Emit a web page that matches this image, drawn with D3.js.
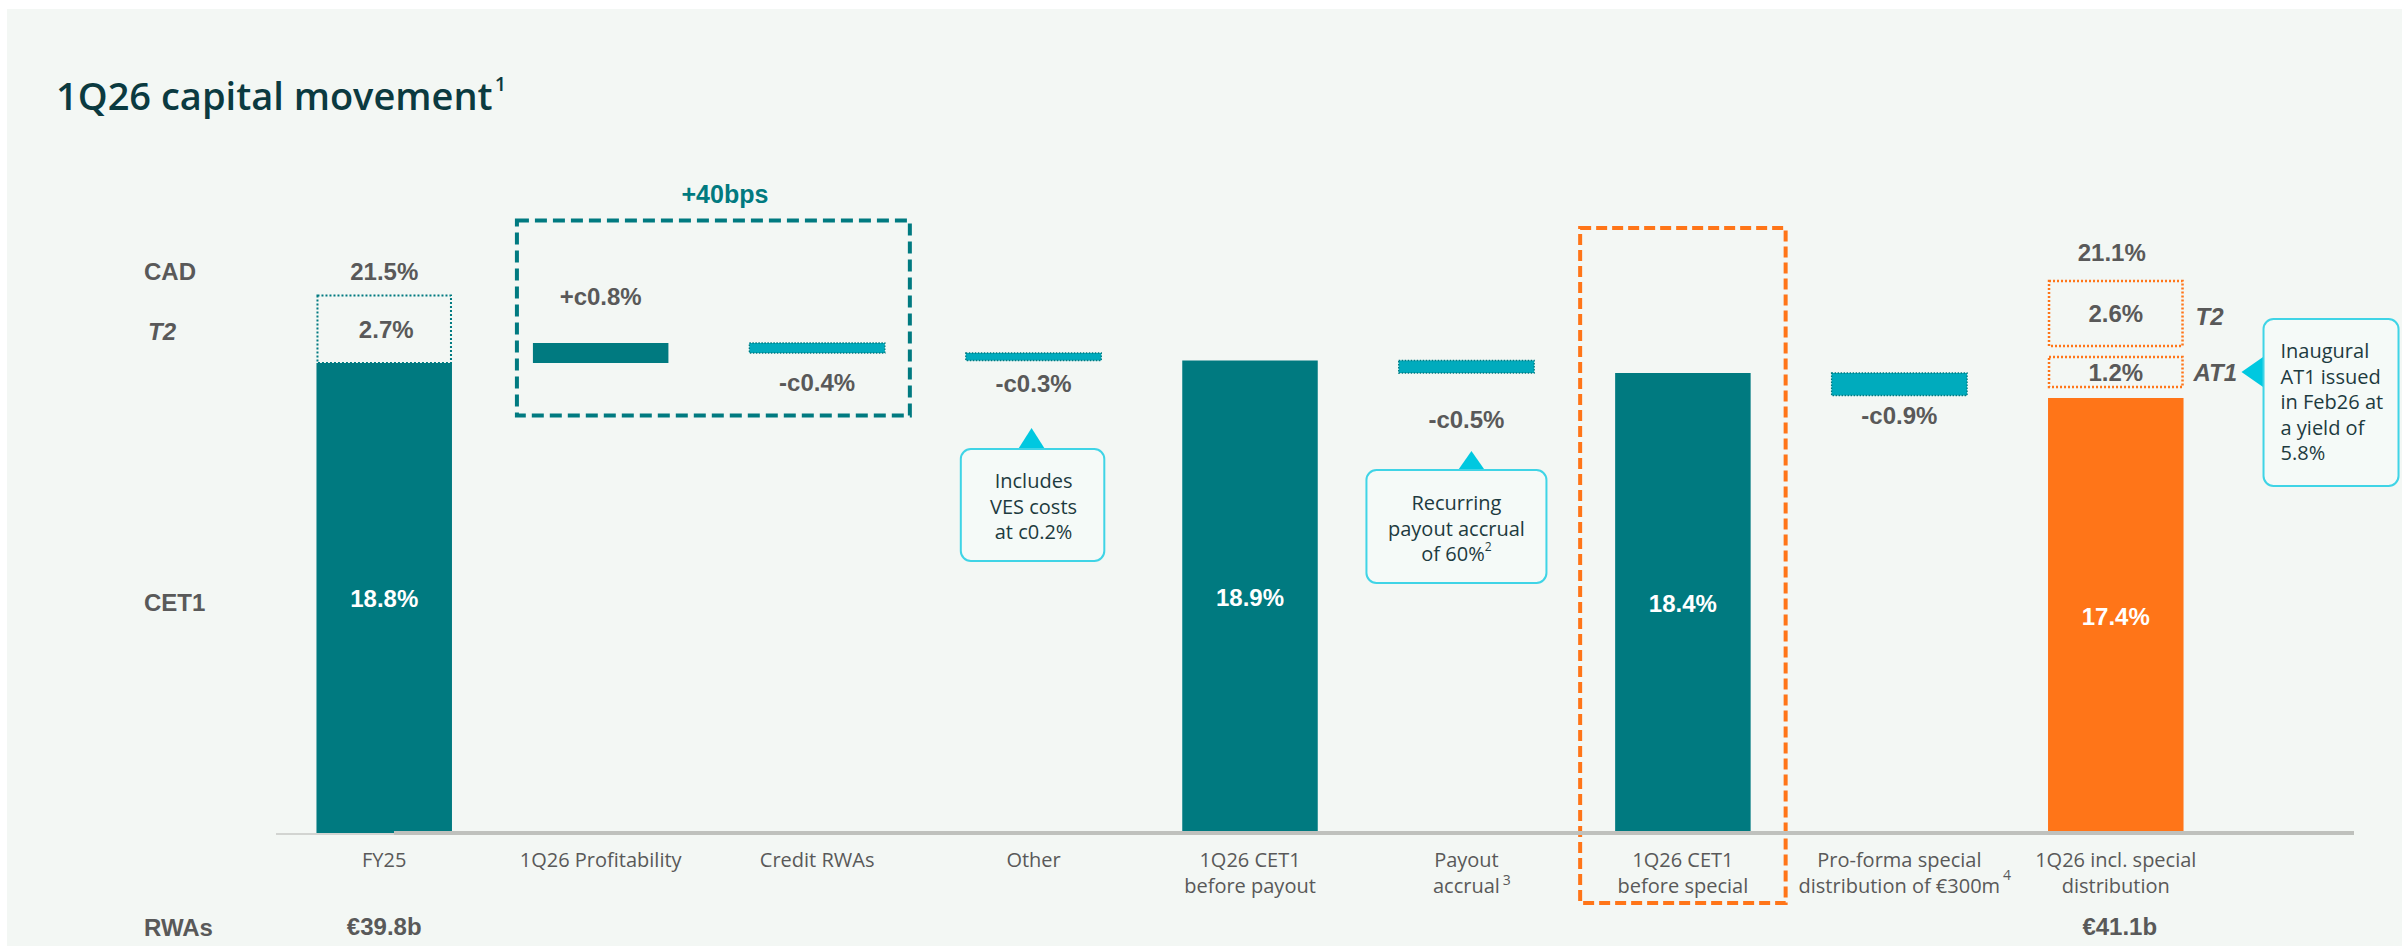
<!DOCTYPE html>
<html>
<head>
<meta charset="utf-8">
<script src="https://cdn.jsdelivr.net/npm/d3@7"></script>
<style>
  html, body { margin: 0; padding: 0; background: #ffffff; }
  svg { display: block; }
</style>
</head>
<body>
<svg id="chart" width="2402" height="946"></svg>
<script>
// ---- Data -----------------------------------------------------------------
const categories = [
  "FY25", "1Q26 Profitability", "Credit RWAs", "Other",
  "1Q26 CET1 before payout", "Payout accrual", "1Q26 CET1 before special",
  "Pro-forma special distribution of €300m", "1Q26 incl. special distribution"
];
const categoryLines = [
  ["FY25"], ["1Q26 Profitability"], ["Credit RWAs"], ["Other"],
  ["1Q26 CET1", "before payout"], ["Payout", "accrual"], ["1Q26 CET1", "before special"],
  ["Pro-forma special", "distribution of €300m"], ["1Q26 incl. special", "distribution"]
];
const categoryNotes = ["", "", "", "", "", "3", "", "4", ""];
const stepTypes = ["total", "delta", "delta", "delta", "total", "delta", "total", "delta", "total"];
// CET1 ratio (%) : totals are levels, deltas are movements
const cet1Values = [18.8, 0.8, -0.4, -0.3, 18.9, -0.5, 18.4, -0.9, 17.4];
const cet1Labels = ["18.8%", "+c0.8%", "-c0.4%", "-c0.3%", "18.9%", "-c0.5%", "18.4%", "-c0.9%", "17.4%"];
// additional capital stacked on top of CET1 (FY25 and final column)
const fy25T2 = 2.7;
const finalAT1 = 1.2;
const finalT2 = 2.6;
const cadLabels = ["21.5%", "21.1%"];
const rwaLabels = ["€39.8b", "€41.1b"];
const rowLabels = ["CAD", "T2", "CET1", "RWAs"];
const groupLabel = "+40bps";
const calloutOther = ["Includes", "VES costs", "at c0.2%"];
const calloutPayout = ["Recurring", "payout accrual", "of 60%"];
const calloutAT1 = ["Inaugural", "AT1 issued", "in Feb26 at", "a yield of", "5.8%"];

// ---- Styles ---------------------------------------------------------------
const TEAL = "#007a80", CYAN = "#00abbd", ORANGE = "#ff7518";
const GREY_TEXT = "#595959", CALLOUT_TEXT = "#1d3b40", CALLOUT_LINE = "#3fd4e6", ARROW = "#00c8e0";
const BOLD = "'Liberation Sans', Arial, sans-serif";
const REG = "'Open Sans', 'Liberation Sans', sans-serif";

const W = 2402, H = 946;
const svg = d3.select("#chart");

svg.append("rect").attr("x", 7).attr("y", 9).attr("width", W - 7).attr("height", H - 9).attr("fill", "#f3f7f4");

// Title
const title = svg.append("text").attr("x", 56).attr("y", 110)
  .attr("font-family", REG).attr("font-size", 38).attr("font-weight", 600).attr("fill", "#0b3a40")
  .text("1Q26 capital movement");
title.append("tspan").attr("font-size", 20).attr("dy", -19).attr("dx", 2).text("1");

// ---- Scales ---------------------------------------------------------------
const x = d3.scaleBand().domain(categories).range([276, 2224]).paddingInner(0.374).paddingOuter(0.187);
const y = d3.scaleLinear().domain([0, 20]).range([833, 333]);
const bw = x.bandwidth();
const cx = c => x(c) + bw / 2;
const last = categories.length - 1;

// Waterfall steps from running total
let running = 0;
const steps = categories.map((c, i) => {
  const v = cet1Values[i];
  if (stepTypes[i] === "total") { running = v; return { c, i, lo: 0, hi: v, type: "total" }; }
  const from = running; running = +(running + v).toFixed(4);
  return { c, i, lo: Math.min(from, running), hi: Math.max(from, running), type: v > 0 ? "up" : "down" };
});

// ---- Annotation frames ----------------------------------------------------
svg.append("rect")
  .attr("x", x(categories[1]) - 16).attr("y", y(24.5))
  .attr("width", x(categories[2]) + bw + 25 - (x(categories[1]) - 16))
  .attr("height", y(16.7) - y(24.5))
  .attr("fill", "none").attr("stroke", TEAL).attr("stroke-width", 4).attr("stroke-dasharray", "12,6");
svg.append("text").attr("x", x(categories[1]) + 192).attr("y", 203)
  .attr("text-anchor", "middle").attr("font-family", BOLD).attr("font-weight", "bold")
  .attr("font-size", 25).attr("fill", TEAL).text(groupLabel);

svg.append("rect")
  .attr("x", x(categories[6]) - 35).attr("y", y(24.2))
  .attr("width", bw + 70).attr("height", y(-2.8) - y(24.2))
  .attr("fill", "none").attr("stroke", ORANGE).attr("stroke-width", 4).attr("stroke-dasharray", "11,5");

// ---- Bars -----------------------------------------------------------------
svg.selectAll("rect.bar").data(steps).join("rect")
  .attr("class", "bar")
  .attr("x", d => x(d.c)).attr("width", bw)
  .attr("y", d => y(d.hi)).attr("height", d => y(d.lo) - y(d.hi))
  .attr("fill", d => d.i === last ? ORANGE : d.type === "down" ? CYAN : TEAL)
  .attr("stroke", d => d.type === "down" ? TEAL : "none")
  .attr("stroke-width", 1.3).attr("stroke-dasharray", "1.5,1.5");

// FY25 tier 2 layer
const fyTop = y(cet1Values[0] + fy25T2);
svg.append("rect").attr("x", x(categories[0]) + 1).attr("y", fyTop)
  .attr("width", bw - 2).attr("height", y(cet1Values[0]) - fyTop)
  .attr("fill", "none").attr("stroke", TEAL).attr("stroke-width", 2).attr("stroke-dasharray", "2,2");

// Final column AT1 and T2 layers (separated by small gaps)
const gap = 11;
const fin = cet1Values[last];
const at1Top = y(fin + finalAT1) - gap, at1Bot = y(fin) - gap;
const t2Top = y(fin + finalAT1 + finalT2) - 2 * gap, t2Bot = y(fin + finalAT1) - 2 * gap;
[[at1Top, at1Bot], [t2Top, t2Bot]].forEach(([t, b]) => {
  svg.append("rect").attr("x", x(categories[last]) + 1).attr("y", t)
    .attr("width", bw - 2).attr("height", b - t)
    .attr("fill", "none").attr("stroke", ORANGE).attr("stroke-width", 2.5).attr("stroke-dasharray", "2,2");
});

// Baseline
svg.append("line").attr("x1", 276).attr("x2", 394).attr("y1", 834).attr("y2", 834)
  .attr("stroke", "#d2d4d1").attr("stroke-width", 2);
svg.append("line").attr("x1", 394).attr("x2", 2354).attr("y1", 833).attr("y2", 833)
  .attr("stroke", "#bfc1bd").attr("stroke-width", 4);

// ---- Value labels ---------------------------------------------------------
const boldText = (sel) => sel.attr("font-family", BOLD).attr("font-weight", "bold").attr("font-size", 24);

// totals: white label at bar mid-height
steps.filter(d => d.type === "total").forEach(d => {
  svg.append("text").call(boldText)
    .attr("x", cx(d.c)).attr("y", (y(d.hi) + y(d.lo)) / 2 + 9)
    .attr("text-anchor", "middle").attr("fill", "#ffffff").text(cet1Labels[d.i]);
});
// deltas: grey label above (up) or below (down) the bar
const deltaLabelGap = { 1: 38, 2: 38, 3: 31, 5: 55, 7: 28 };
steps.filter(d => d.type !== "total").forEach(d => {
  const yy = d.type === "up" ? y(d.hi) - deltaLabelGap[d.i] : y(d.lo) + deltaLabelGap[d.i];
  svg.append("text").call(boldText)
    .attr("x", cx(d.c)).attr("y", yy)
    .attr("text-anchor", "middle").attr("fill", GREY_TEXT).text(cet1Labels[d.i]);
});

// capital stack labels
svg.append("text").call(boldText).attr("x", cx(categories[0])).attr("y", fyTop - 16)
  .attr("text-anchor", "middle").attr("fill", GREY_TEXT).text(cadLabels[0]);
svg.append("text").call(boldText).attr("x", cx(categories[0]) + 2).attr("y", (fyTop + y(cet1Values[0])) / 2 + 9)
  .attr("text-anchor", "middle").attr("fill", GREY_TEXT).text(fy25T2.toFixed(1) + "%");
svg.append("text").call(boldText).attr("x", cx(categories[last]) - 4).attr("y", t2Top - 20)
  .attr("text-anchor", "middle").attr("fill", GREY_TEXT).text(cadLabels[1]);
svg.append("text").call(boldText).attr("x", cx(categories[last])).attr("y", (t2Top + t2Bot) / 2 + 8)
  .attr("text-anchor", "middle").attr("fill", GREY_TEXT).text(finalT2.toFixed(1) + "%");
svg.append("text").call(boldText).attr("x", cx(categories[last])).attr("y", (at1Top + at1Bot) / 2 + 9)
  .attr("text-anchor", "middle").attr("fill", GREY_TEXT).text(finalAT1.toFixed(1) + "%");
svg.append("text").call(boldText).attr("font-style", "italic")
  .attr("x", x(categories[last]) + bw + 12).attr("y", (t2Top + t2Bot) / 2 + 11)
  .attr("fill", GREY_TEXT).text("T2");
svg.append("text").call(boldText).attr("font-style", "italic")
  .attr("x", x(categories[last]) + bw + 10).attr("y", (at1Top + at1Bot) / 2 + 9)
  .attr("fill", GREY_TEXT).text("AT1");

// row labels on the left
const rowY = [fyTop - 16, (fyTop + y(cet1Values[0])) / 2 + 11, y(cet1Values[0] / 2) + 13, 936];
rowLabels.forEach((r, i) => {
  svg.append("text").call(boldText).attr("x", i === 1 ? 148 : 144).attr("y", rowY[i])
    .attr("font-style", i === 1 ? "italic" : "normal")
    .attr("fill", GREY_TEXT).text(r);
});
// RWAs values
[[0, rwaLabels[0]], [last, rwaLabels[1]]].forEach(([i, t]) => {
  svg.append("text").call(boldText).attr("x", cx(categories[i]) + (i === last ? 4 : 0)).attr("y", 935)
    .attr("text-anchor", "middle").attr("fill", GREY_TEXT).text(t);
});

// ---- Category axis --------------------------------------------------------
const gAxis = svg.append("g").attr("transform", "translate(0,833)")
  .call(d3.axisBottom(x).tickSize(0).tickFormat(""));
gAxis.select(".domain").remove();
gAxis.selectAll(".tick").each(function (c) {
  const i = categories.indexOf(c);
  const g = d3.select(this);
  const lines = categoryLines[i];
  let lastW = 0;
  lines.forEach((ln, k) => {
    const t = g.append("text").attr("x", 0).attr("y", 34 + 26 * k)
      .attr("text-anchor", "middle").attr("font-family", REG).attr("font-size", 20)
      .attr("fill", GREY_TEXT).text(ln);
    lastW = t.node().getComputedTextLength();
  });
  if (categoryNotes[i]) {
    g.append("text").attr("x", lastW / 2 + 7).attr("y", 34 + 26 * (lines.length - 1) - (i === 7 ? 13 : 8))
      .attr("font-family", REG).attr("font-size", 14).attr("fill", GREY_TEXT).text(categoryNotes[i]);
  }
});

// ---- Callouts -------------------------------------------------------------
function callout(box, arrow, lines, anchor, tx, ty0, sup) {
  svg.append("path").attr("d", d3.line()(arrow) + "Z").attr("fill", ARROW);
  svg.append("rect").attr("x", box[0]).attr("y", box[1]).attr("width", box[2]).attr("height", box[3])
    .attr("rx", 10).attr("fill", "#f5faf8").attr("stroke", CALLOUT_LINE).attr("stroke-width", 2);
  lines.forEach((ln, k) => {
    const t = svg.append("text").attr("x", tx).attr("y", ty0 + 25.5 * k)
      .attr("text-anchor", anchor).attr("font-family", REG).attr("font-size", 20)
      .attr("fill", CALLOUT_TEXT).text(ln);
    if (sup && k === lines.length - 1) t.append("tspan").attr("font-size", 12).attr("dy", -10).text(sup);
  });
}
const oc = cx(categories[3]);
callout([x(categories[3]) - 5, 449, bw + 8, 112], [[oc - 16, 450], [oc - 2, 428], [oc + 12, 450]],
  calloutOther, "middle", oc, 488);
const pc = cx(categories[5]);
callout([pc - 100, 470, 180, 113], [[pc - 9, 471], [pc + 5, 451], [pc + 19, 471]],
  calloutPayout, "middle", pc - 10, 510, "2");
const ax = x(categories[last]) + bw;
callout([ax + 80, 319, 135, 167], [[ax + 81, 356], [ax + 58, 372], [ax + 81, 388]],
  calloutAT1, "start", ax + 97, 358);
</script>
</body>
</html>
